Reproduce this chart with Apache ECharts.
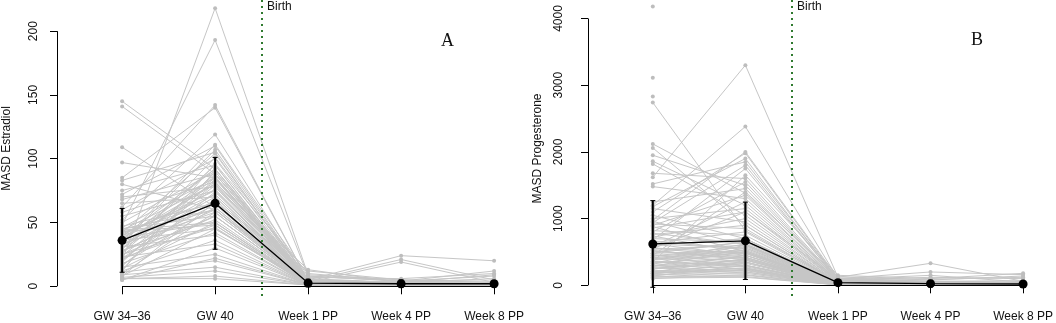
<!DOCTYPE html>
<html>
<head>
<meta charset="utf-8">
<script src="https://cdn.jsdelivr.net/npm/echarts@6/dist/echarts.min.js"></script>
<style>
  html, body { margin: 0; padding: 0; background: #fff; }
  #chart { width: 1056px; height: 323px; }
</style>
</head>
<body>
<div id="chart"></div>
<script>
const timepoints = ['GW 34\u201336', 'GW 40', 'Week 1 PP', 'Week 4 PP', 'Week 8 PP']

// Panel A: estradiol, one entry per participant
const estradiolGW34 = [145, 141, 109, 97, 85, 83, 80, 75, 72, 70, 68, 65, 62, 60, 58, 55, 52, 50, 48, 47, 46, 45, 44, 43, 42, 41, 40, 39, 38, 37, 36, 35, 34, 33, 32, 31, 30, 29, 28, 27, 26, 25, 24, 23, 22, 21, 20, 19, 18, 17, 16, 15, 14, 13, 12, 11, 10, 9, 8, 7, 6, 6, 5, 5, 8, 12, 20, 26, 35, 45, 28, 32, 38, 42, 25, 30, 35, 22, 40, 44]
const estradiolGW40 = [92, 88, 62, 85, 140, 105, 60, 95, 110, 78, 88, 70, 142, 100, 82, 75, 119, 90, 193, 65, 85, 55, 80, 48, 104, 72, 60, 92, 50, 86, 45, 76, 107, 58, 82, 40, 70, 95, 52, 64, 88, 46, 79, 33, 68, 55, 218, 84, 42, 62, 74, 25, 50, 90, 36, 20, 58, 15, 45, 12, 8, 6, 30, 22, 66, 96, 81, 101, 111, 60, 60, 72, 80, 66, 55, 85, 92, 48, 75, 50]
const estradiolW1 = [6, 4, 3, 5, 4, 3, 2, 3, 5, 2, 4, 2, 4, 3, 3, 2, 4, 3, 8, 2, 3, 2, 3, 1, 4, 2, 2, 3, 1, 3, 2, 2, 5, 2, 3, 1, 2, 4, 2, 2, 3, 1, 3, 1, 2, 2, 9, 3, 1, 2, 3, 1, 2, 5, 1, 1, 2, 1, 3, 1, 1, 1, 1, 1, 12, 10, 13, 7, 8, 5, 2, 3, 3, 2, 2, 4, 3, 1, 3, 2]
const estradiolW4 = [3, 2, 2, 2, 3, 2, 1, 2, 3, 1, 2, 1, 21, 2, 1, 2, 3, 2, 4, 1, 2, 1, 2, 1, 2, 1, 1, 2, 1, 2, 1, 2, 3, 1, 2, 1, 1, 2, 1, 2, 2, 1, 2, 1, 1, 1, 5, 2, 1, 1, 2, 1, 1, 24, 1, 1, 1, 1, 19, 1, 1, 1, 1, 1, 5, 4, 3, 6, 4, 3, 1, 2, 2, 1, 1, 2, 2, 1, 2, 1]
const estradiolW8 = [2, 2, 1, 2, 2, 1, 1, 2, 2, 1, 2, 1, 5, 2, 1, 1, 2, 2, 3, 1, 1, 1, 2, 1, 2, 1, 1, 2, 1, 1, 1, 1, 2, 1, 2, 1, 1, 2, 1, 1, 2, 1, 1, 1, 1, 1, 4, 2, 1, 1, 1, 1, 1, 20, 1, 1, 1, 1, 3, 1, 1, 1, 1, 1, 3, 12, 9, 10, 8, 6, 1, 1, 2, 1, 1, 2, 1, 1, 1, 1]
const estradiolMean = [36, 65, 2.5, 2, 2]
const estradiolSD = [25, 36, 3, 3, 2.5]

// Panel B: progesterone
const progesteroneGW34 = [4180, 3110, 2830, 2740, 2120, 2060, 1950, 1860, 1820, 1680, 1620, 1520, 1480, 1250, 1200, 1180, 1150, 1100, 1050, 1000, 980, 960, 940, 920, 900, 880, 860, 820, 800, 780, 760, 740, 720, 700, 680, 660, 640, 620, 600, 580, 560, 540, 520, 500, 480, 460, 440, 420, 400, 380, 360, 340, 320, 300, 290, 280, 260, 250, 240, 220, 210, 200, 190, 180, 170, 160, 150, 140, 130, 120, 110, 100, 350, 450, 550, 300, 420, 560, 250, 350, 480, 620, 200, 380, 520, 270, 440, 330, 600, 180]
const progesteroneGW40 = [null, null, null, 820, 1380, 900, 1500, 1200, 1050, 1600, 3300, 1850, 1300, 1450, 2380, 1900, 950, 1980, 700, 1150, 2000, 600, 1800, 850, 1350, 500, 1100, 750, 1550, 620, 900, 480, 1000, 650, 1750, 540, 800, 450, 700, 1250, 420, 600, 380, 650, 520, 350, 580, 300, 480, 620, 280, 420, 500, 250, 380, 560, 220, 330, 450, 200, 300, 400, 180, 260, 350, 150, 230, 300, 130, 200, 120, 160, 1650, 1400, 1100, 420, 500, 480, 380, 300, 650, 560, 260, 450, 400, 350, 520, 600, 700, 240]
const progesteroneW1 = [90, 70, 60, 50, 60, 40, 70, 50, 40, 80, 120, 90, 50, 60, 100, 80, 40, 90, 30, 50, 110, 30, 70, 40, 60, 25, 50, 35, 70, 30, 40, 20, 45, 30, 80, 25, 35, 20, 30, 55, 20, 25, 15, 30, 25, 15, 25, 15, 20, 30, 15, 20, 25, 12, 18, 25, 12, 15, 20, 10, 15, 20, 10, 12, 15, 8, 10, 15, 8, 10, 8, 8, 150, 130, 100, 20, 25, 20, 15, 15, 30, 25, 10, 20, 20, 15, 25, 30, 35, 10]
const progesteroneW4 = [60, 40, 30, 30, 40, 20, 30, 25, 20, 40, 330, 60, 30, 40, 200, 50, 20, 150, 20, 30, 60, 15, 40, 25, 40, 15, 30, 20, 40, 15, 25, 15, 30, 20, 120, 15, 25, 10, 20, 35, 10, 15, 10, 20, 15, 10, 15, 10, 15, 20, 10, 15, 15, 8, 12, 15, 8, 10, 15, 8, 10, 12, 8, 8, 10, 6, 8, 10, 6, 8, 6, 6, 100, 80, 90, 12, 15, 12, 10, 10, 20, 15, 8, 12, 12, 10, 15, 18, 20, 8]
const progesteroneW8 = [50, 30, 25, 20, 30, 15, 25, 20, 15, 30, 60, 40, 25, 30, 160, 40, 15, 50, 15, 25, 70, 10, 30, 20, 30, 10, 25, 15, 30, 10, 20, 10, 25, 15, 100, 10, 20, 10, 15, 30, 10, 10, 10, 15, 10, 8, 10, 8, 10, 15, 8, 10, 10, 6, 8, 12, 6, 8, 10, 6, 8, 10, 6, 6, 8, 5, 6, 8, 5, 6, 5, 5, 180, 140, 120, 10, 10, 10, 8, 8, 15, 12, 6, 10, 10, 8, 12, 12, 15, 6]
const progesteroneMean = [620, 667, 40, 25, 20]
const progesteroneSD = [650, 580, 40, 50, 35]

const chart = echarts.init(document.getElementById('chart'))

const lineGray = '#c6c6c6'
const dotGray = '#bdbdbd'
const birthGreen = '#2f7a2f'
const fontSans = 'Liberation Sans, Arial, sans-serif'

const makeSubjects = (cols, gridIdx) => {
  const n = cols[0].length
  const out = []
  for (let i = 0; i < n; i++) {
    out.push({
      type: 'line',
      xAxisIndex: gridIdx,
      yAxisIndex: gridIdx,
      data: cols.map((c, k) => [k + 1, c[i]]),
      symbol: 'circle',
      symbolSize: 4,
      showSymbol: true,
      connectNulls: false,
      clip: false,
      silent: true,
      z: 2,
      lineStyle: { color: lineGray, width: 1 },
      itemStyle: { color: dotGray },
    })
  }
  return out
}

const errorBars = (mean, sd, gridIdx) => ({
  type: 'custom',
  xAxisIndex: gridIdx,
  yAxisIndex: gridIdx,
  silent: true,
  clip: false,
  z: 5,
  data: mean.map((m, k) => [k + 1, m - sd[k], m + sd[k]]),
  encode: { x: 0, y: [1, 2] },
  renderItem: (params, api) => {
    const x = api.value(0)
    const lo = api.coord([x, api.value(1)])
    const hi = api.coord([x, api.value(2)])
    const w = 2.5
    return {
      type: 'group',
      children: [
        { type: 'line', shape: { x1: lo[0], y1: lo[1], x2: hi[0], y2: hi[1] }, style: { stroke: '#000', lineWidth: 2 } },
        { type: 'line', shape: { x1: lo[0] - w, y1: lo[1], x2: lo[0] + w, y2: lo[1] }, style: { stroke: '#000', lineWidth: 1 } },
        { type: 'line', shape: { x1: hi[0] - w, y1: hi[1], x2: hi[0] + w, y2: hi[1] }, style: { stroke: '#000', lineWidth: 1 } },
      ],
    }
  },
})

const meanSeries = (mean, gridIdx, yTop, yMin, yMax) => ({
  type: 'line',
  xAxisIndex: gridIdx,
  yAxisIndex: gridIdx,
  data: mean.map((m, k) => [k + 1, m]),
  symbol: 'circle',
  symbolSize: 9,
  clip: false,
  silent: true,
  z: 6,
  lineStyle: { color: '#000', width: 1.3 },
  itemStyle: { color: '#000' },
  markLine: {
    silent: true,
    symbol: 'none',
    animation: false,
    label: { show: false },
    data: [
      // axis lines drawn R-style, only between first and last tick
      [{ coord: [1, 0], lineStyle: { color: '#000', width: 1, type: 'solid' } }, { coord: [5, 0] }],
      [{ coord: [0.3, 0], lineStyle: { color: '#000', width: 1, type: 'solid' } }, { coord: [0.3, yTop] }],
      [{ coord: [2.5, yMax], lineStyle: { color: birthGreen, width: 2, type: [2, 4] } }, { coord: [2.5, yMin] }],
    ],
  },
})

const xAxisBase = (gridIdx) => ({
  type: 'value',
  gridIndex: gridIdx,
  min: 0.3,
  max: 5.3,
  splitLine: { show: false },
  axisLine: { show: true, onZero: true, lineStyle: { opacity: 0 } },
  axisTick: { show: true, length: 8, lineStyle: { color: '#000' }, customValues: [1, 2, 3, 4, 5] },
  axisLabel: {
    customValues: [1, 2, 3, 4, 5],
    formatter: (v) => timepoints[Math.round(v) - 1] || '',
    color: '#111',
    fontSize: 12,
    fontFamily: fontSans,
    margin: 14,
  },
})

const yAxisBase = (gridIdx, min, max, ticks, name, margin) => ({
  type: 'value',
  gridIndex: gridIdx,
  min,
  max,
  name,
  nameLocation: 'middle',
  nameRotate: 90,
  nameGap: 44,
  nameTextStyle: { color: '#111', fontSize: 12, fontFamily: fontSans },
  splitLine: { show: false },
  axisLine: { show: false },
  axisTick: { show: true, length: 7, lineStyle: { color: '#000' }, customValues: ticks },
  axisLabel: {
    customValues: ticks,
    formatter: (v) => String(v),
    rotate: 90,
    color: '#111',
    fontSize: 12,
    fontFamily: fontSans,
    margin,
  },
})

const estradiolTicks = [0, 50, 100, 150, 200]
const progesteroneTicks = [0, 1000, 2000, 3000, 4000]
const aMin = -8.4, aMax = 224.4
const bMin = -175, bMax = 4277

const textStyle = { fill: '#111', fontSize: 12, fontFamily: fontSans }
const serif = 'Liberation Serif, Times New Roman, serif'

const option = {
  animation: false,
  backgroundColor: '#fff',
  grid: [
    { left: 57, top: 0, width: 465, height: 305 },
    { left: 588, top: 0, width: 465, height: 305 },
  ],
  xAxis: [xAxisBase(0), xAxisBase(1)],
  yAxis: [
    yAxisBase(0, aMin, aMax, estradiolTicks, 'MASD Estradiol', 17),
    yAxisBase(1, bMin, bMax, progesteroneTicks, 'MASD Progesterone', 23),
  ],
  graphic: [
    { type: 'text', left: 267, top: 1, style: { ...textStyle, text: 'Birth' } },
    { type: 'text', left: 797, top: 1, style: { ...textStyle, text: 'Birth' } },
    { type: 'text', left: 441, top: 32, style: { fill: '#111', fontSize: 18, fontFamily: serif, text: 'A' } },
    { type: 'text', left: 971, top: 31, style: { fill: '#111', fontSize: 18, fontFamily: serif, text: 'B' } },
  ],
  series: [
    ...makeSubjects([estradiolGW34, estradiolGW40, estradiolW1, estradiolW4, estradiolW8], 0),
    ...makeSubjects([progesteroneGW34, progesteroneGW40, progesteroneW1, progesteroneW4, progesteroneW8], 1),
    meanSeries(estradiolMean, 0, 200, aMin, aMax),
    meanSeries(progesteroneMean, 1, 4000, bMin, bMax),
    errorBars(estradiolMean, estradiolSD, 0),
    errorBars(progesteroneMean, progesteroneSD, 1),
  ],
}

chart.setOption(option)
</script>
</body>
</html>
